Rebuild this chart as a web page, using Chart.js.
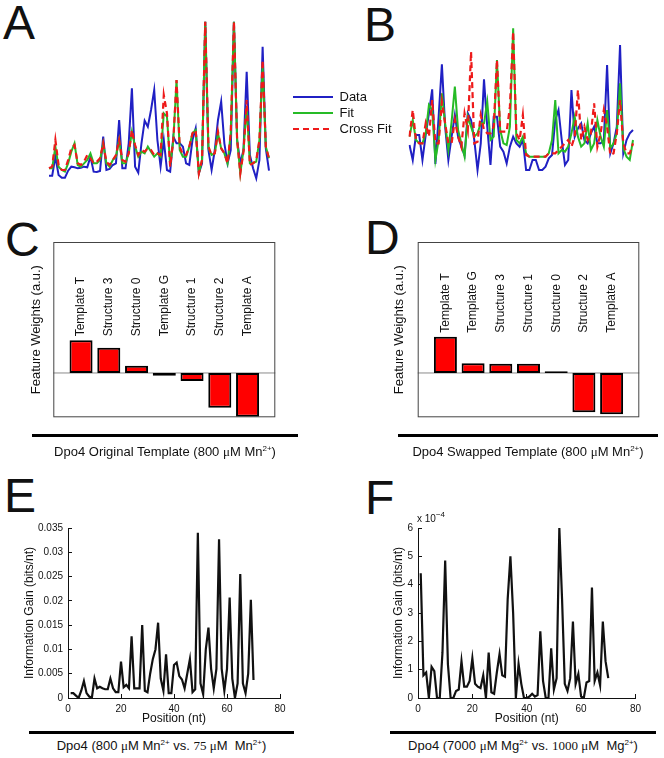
<!DOCTYPE html>
<html>
<head>
<meta charset="utf-8">
<script src="https://cdn.jsdelivr.net/npm/chart.js"></script>
<style>
  body { margin: 0; background: #fff; width: 664px; height: 758px; position: relative; overflow: hidden;
         font-family: "Liberation Sans", Arial, sans-serif; color: #111; }
  canvas { position: absolute; }
  .letter { position: absolute; font-size: 48px; line-height: 48px; color: #111; }
  .cap { position: absolute; font-size: 13px; line-height: 16px; text-align: center; white-space: nowrap; }
  .rule { position: absolute; height: 3px; background: #000; }
  .mu { font-family: "Liberation Serif", "Times New Roman", serif; }
  sup { font-size: 8px; line-height: 0; vertical-align: 5px; }
  .exp { position: absolute; font-size: 10px; line-height: 12px; }
</style>
</head>
<body>
<div class="letter" style="left:3px;top:-1px">A</div>
<div class="letter" style="left:364px;top:1px">B</div>
<div class="letter" style="left:5px;top:216px">C</div>
<div class="letter" style="left:365px;top:214px">D</div>
<div class="letter" style="left:4px;top:472px">E</div>
<div class="letter" style="left:365px;top:474px">F</div>

<canvas id="chartA" width="240" height="230" style="left:40px;top:0px"></canvas>
<canvas id="chartB" width="355" height="230" style="left:290px;top:0px"></canvas>
<canvas id="chartC" width="290" height="215" style="left:0px;top:215px"></canvas>
<canvas id="chartD" width="290" height="215" style="left:360px;top:215px"></canvas>
<canvas id="chartE" width="300" height="225" style="left:0px;top:505px"></canvas>
<canvas id="chartF" width="300" height="225" style="left:350px;top:505px"></canvas>

<div class="rule" style="left:32px;top:434px;width:266px"></div>
<div class="cap" style="left:32px;top:444px;width:266px">Dpo4 Original Template (800 <span class="mu">μ</span>M Mn<sup>2+</sup>)</div>
<div class="rule" style="left:398px;top:434px;width:260px"></div>
<div class="cap" style="left:398px;top:444px;width:260px">Dpo4 Swapped Template (800 <span class="mu">μ</span>M Mn<sup>2+</sup>)</div>
<div class="rule" style="left:29px;top:731px;width:265px"></div>
<div class="cap" style="left:29px;top:738px;width:265px">Dpo4 (800 <span class="mu">μ</span>M Mn<sup>2+</sup> vs. <span class="mu">75 μ</span>M&nbsp; Mn<sup>2+</sup>)</div>
<div class="rule" style="left:390px;top:731px;width:266px"></div>
<div class="cap" style="left:390px;top:738px;width:266px">Dpo4 (7000 <span class="mu">μ</span>M Mg<sup>2+</sup> vs. <span class="mu">1000 μ</span>M&nbsp; Mg<sup>2+</sup>)</div>
<div class="exp" style="left:417px;top:513px">x 10<sup>−4</sup></div>

<script>
// nucleotide positions along the template
const positions = Array.from({ length: 70 }, (_, i) => i + 1);

// panel A traces (arbitrary units)
const aData = [13,13,70,15,7,7,28,40,38,35, 37,40,38,70,25,24,27,130,30,33,
  45,50,180,35,35,110,275,40,22,110, 178,160,210,270,120,40,120,30,25,130,
  110,110,100,50,45,120,155,20,50,475, 90,30,90,180,235,110,50,90,475,120,
  50,90,325,75,35,5,60,400,95,28];
const aFit = [35,35,100,40,30,25,50,85,110,45, 40,50,60,80,50,50,60,110,50,40,
  60,70,120,50,50,80,145,100,70,85, 80,100,85,70,80,70,200,190,45,120,
  300,90,70,70,100,140,150,20,60,475, 95,75,80,140,95,80,50,140,475,120,
  20,90,220,50,50,55,120,340,100,65];
const aCross = [35,40,120,45,30,30,60,95,105,50, 45,55,75,65,50,55,65,110,55,45,
  60,75,120,60,55,80,150,105,75,90, 85,95,90,75,80,75,255,200,40,120,
  300,100,75,75,100,140,150,20,60,475, 100,75,80,145,95,80,50,140,475,120,
  20,85,240,45,50,60,120,360,100,65];

// panel B traces (arbitrary units)
const bData = [105,60,135,135,60,135,200,272,48,190, 347,160,60,130,195,130,100,75,200,180,
  120,30,110,302,160,45,190,190,100,85, 50,100,130,110,100,120,30,30,60,60,
  30,30,40,65,75,180,210,120,45,60, 270,130,155,170,120,110,140,160,110,110,
  120,345,80,110,160,405,80,120,140,150];
const bFit = [130,180,120,110,110,140,225,210,60,120, 260,170,90,175,280,150,110,70,190,160,
  130,140,170,170,235,120,130,360,150,110, 105,160,455,120,110,130,80,70,70,70,
  70,70,70,80,120,240,80,90,85,100, 140,190,130,100,110,170,90,110,180,130,
  100,210,95,110,140,290,95,70,60,120];
const bCross = [130,210,120,110,110,170,130,240,110,110, 235,170,110,110,180,130,100,200,150,385,
  110,115,195,150,140,140,160,360,145,145, 145,220,445,140,120,195,75,70,70,70,
  70,70,70,80,80,80,90,100,110,120, 100,130,270,120,160,120,140,230,100,140,
  210,160,75,80,140,240,110,80,80,110];

// panels C and D feature weights (a.u.)
const cFeatures = ['Template T', 'Structure 3', 'Structure 0', 'Template G', 'Structure 1', 'Structure 2', 'Template A'];
const cWeights = [0.98, 0.76, 0.22, -0.08, -0.24, -1.04, -1.31];
const dFeatures = ['Template T', 'Template G', 'Structure 3', 'Structure 1', 'Structure 0', 'Structure 2', 'Template A'];
const dWeights = [1.09, 0.29, 0.28, 0.28, 0.05, -1.18, -1.24];

// panel E information gain (bits/nt)
const eGain = [0.001,0.001,0.0005,0,0.0015,0.0035,0.001,0.0003,0,0.004,
  0.002,0.0023,0.002,0.0018,0.0018,0.004,0.002,0.0012,0.0012,0.0075,
  0.0022,0.0027,0.002,0.0127,0.002,0.002,0.002,0.015,0.0015,0.0012,
  0.005,0.008,0.01,0.0155,0.004,0.0015,0.009,0.001,0.001,0.0068,
  0.0073,0.0045,0.0038,0.002,0.005,0.008,0.0012,0.0018,0.034,0.003,
  0.0008,0.01,0.0145,0.006,0.002,0.006,0.0327,0.006,0.0015,0.006,
  0.0207,0.004,0,0.003,0.0255,0.003,0.001,0.005,0.0202,0.0037];
// panel F information gain (x 10^-4 bits/nt)
const fGain = [4.4,0.8,0.9,0,1.1,0.95,0,0,1.6,4.85,
  1.2,0,0,0.25,0.3,1.3,0.4,0.4,0.6,1.4,
  0.5,0.4,0.35,0.8,0,1.6,0.2,0.15,0.9,1.55,
  0.8,0.75,3.5,5.0,3.0,0,1.2,0.5,0,0,
  0.05,0.15,0.05,0.1,2.35,0.6,0,0,1.75,0.3,
  0.7,6.0,3.5,0.5,0.25,0.7,2.7,0.5,0.85,0.05,
  0,0.55,0.6,3.9,0.6,0.9,0.45,2.7,1.3,0.7];

const posTicks = [0, 20, 40, 60, 80];
const eYTicks = [0, 0.005, 0.01, 0.015, 0.02, 0.025, 0.03, 0.035];
const eYLabels = ['0', '0.005', '0.01', '0.015', '0.02', '0.025', '0.03', '0.035'];
const fYTicks = [0, 1, 2, 3, 4, 5, 6];
const fYLabels = ['0', '1', '2', '3', '4', '5', '6'];

Chart.defaults.font.family = '"Liberation Sans", Arial, sans-serif';
Chart.defaults.color = '#111';
Chart.defaults.animation = false;
Chart.defaults.responsive = false;
Chart.defaults.plugins.tooltip.enabled = false;

const BLUE = '#2020c4', GREEN = '#26bb26', RED = '#ee1a1a';

// small line swatch used as the legend symbol (keeps the dash visible)
function swatch(color, dash) {
  const c = document.createElement('canvas');
  c.width = 40; c.height = 4;
  const g = c.getContext('2d');
  g.strokeStyle = color; g.lineWidth = 2.2;
  g.setLineDash(dash);
  g.beginPath(); g.moveTo(0, 2); g.lineTo(40, 2); g.stroke();
  return c;
}

function traceSets(data, fit, cross) {
  return [
    { label: 'Data', data: data, borderColor: BLUE, backgroundColor: BLUE, borderWidth: 2, order: 2, pointStyle: swatch(BLUE, []) },
    { label: 'Fit', data: fit, borderColor: GREEN, backgroundColor: GREEN, borderWidth: 2, order: 1, pointStyle: swatch(GREEN, []) },
    { label: 'Cross Fit', data: cross, borderColor: RED, backgroundColor: RED, borderWidth: 2.2, borderDash: [6, 4], order: 0, pointStyle: swatch(RED, [6, 4]) }
  ];
}

const traceElements = { point: { radius: 0 }, line: { tension: 0 } };

new Chart(document.getElementById('chartA'), {
  type: 'line',
  data: { labels: positions, datasets: traceSets(aData, aFit, aCross) },
  options: {
    elements: traceElements,
    layout: { padding: { left: 9, right: 11, top: 20, bottom: 24 } },
    plugins: { legend: { display: false } },
    scales: {
      x: { display: false },
      y: { display: false, min: -78, max: 480 }
    }
  }
});

new Chart(document.getElementById('chartB'), {
  type: 'line',
  data: { labels: positions, datasets: traceSets(bData, bFit, bCross) },
  options: {
    elements: traceElements,
    layout: { padding: { left: 0, right: 12, top: 20, bottom: 24 } },
    plugins: {
      legend: {
        position: 'left',
        align: 'center',
        maxWidth: 200,
        labels: {
          usePointStyle: true, pointStyleWidth: 40,
          padding: 3, color: '#111',
          font: { size: 13, lineHeight: 1 },
          sort: (a, b) => a.datasetIndex - b.datasetIndex
        }
      }
    },
    scales: {
      x: { display: false },
      y: {
        min: -78, max: 480,
        ticks: { display: false }, grid: { display: false }, border: { display: false },
        afterFit: s => { s.width = 8; }
      }
    }
  }
});

const barDecor = {
  id: 'barDecor',
  beforeDatasetsDraw(chart) {
    const { ctx, chartArea: a, scales: { y } } = chart;
    const y0 = y.getPixelForValue(0);
    ctx.save();
    ctx.strokeStyle = '#8a8a8a';
    ctx.lineWidth = 1;
    ctx.beginPath();
    ctx.moveTo(a.left, y0);
    ctx.lineTo(a.right, y0);
    ctx.stroke();
    ctx.restore();
  },
  afterDatasetsDraw(chart) {
    const { ctx, chartArea: a, scales: { x, y } } = chart;
    ctx.save();
    ctx.strokeStyle = '#444';
    ctx.lineWidth = 1;
    ctx.strokeRect(a.left + 0.5, a.top + 0.5, a.right - a.left - 1, a.bottom - a.top - 1);
    const vals = chart.data.datasets[0].data.filter(v => v !== null);
    const base = y.getPixelForValue(Math.max(...vals)) - 4;
    ctx.fillStyle = '#111';
    ctx.font = '12px "Liberation Sans", Arial, sans-serif';
    ctx.textAlign = 'left';
    ctx.textBaseline = 'middle';
    chart.data.labels.forEach((lab, i) => {
      if (!lab) return;
      ctx.save();
      ctx.translate(x.getPixelForValue(i), base);
      ctx.rotate(-Math.PI / 2);
      ctx.fillText(lab, 0, 0);
      ctx.restore();
    });
    ctx.restore();
  }
};

function weightChart(id, features, weights, titlePad, rightPad, axisWidth) {
  return new Chart(document.getElementById(id), {
    type: 'bar',
    data: {
      labels: ['', ...features, ''],
      datasets: [{
        data: [null, ...weights, null],
        backgroundColor: '#ff0000', borderColor: '#000', borderWidth: 2, borderSkipped: false,
        barPercentage: 0.83, categoryPercentage: 1
      }]
    },
    options: {
      layout: { padding: { left: 0, right: rightPad, top: 27, bottom: 12.7 } },
      plugins: { legend: { display: false } },
      scales: {
        x: { display: false, offset: false },
        y: {
          min: -1.33, max: 3.93,
          ticks: { display: false }, grid: { display: false }, border: { display: false },
          title: { display: true, text: 'Feature Weights (a.u.)', font: { size: 13 }, color: '#111', padding: { top: titlePad, bottom: 0 } },
          afterFit: s => { s.width = axisWidth; }
        }
      }
    },
    plugins: [barDecor]
  });
}

weightChart('chartC', cFeatures, cWeights, 29, 14.7, 53.3);
weightChart('chartD', dFeatures, dWeights, 32, 10.7, 57.7);

function gainChart(id, values, yMax, yTicks, yLabels, titlePad, rightPad) {
  return new Chart(document.getElementById(id), {
    type: 'line',
    data: {
      datasets: [{
        data: positions.map((p, i) => ({ x: p, y: values[i] })),
        borderColor: '#111', borderWidth: 2.2, pointRadius: 0, tension: 0
      }]
    },
    options: {
      layout: { padding: { left: 0, right: rightPad, top: 23, bottom: 0 } },
      plugins: { legend: { display: false } },
      scales: {
        x: {
          type: 'linear', min: 0, max: 80,
          afterBuildTicks: s => { s.ticks = posTicks.map(v => ({ value: v })); },
          ticks: { font: { size: 10 }, color: '#111', padding: 9, maxRotation: 0 },
          grid: { drawOnChartArea: false, drawTicks: true, tickLength: -4, color: '#111' },
          border: { color: '#111', width: 1 },
          title: { display: true, text: 'Position (nt)', font: { size: 12 }, color: '#111', padding: { top: 0, bottom: 4 } },
          afterFit: s => { s.height = 32; }
        },
        y: {
          min: 0, max: yMax,
          afterBuildTicks: s => { s.ticks = yTicks.map(v => ({ value: v })); },
          ticks: { font: { size: 10 }, color: '#111', padding: 9, callback: (v, i) => yLabels[i] },
          grid: { drawOnChartArea: false, drawTicks: true, tickLength: -4, color: '#111' },
          border: { color: '#111', width: 1 },
          title: { display: true, text: 'Information Gain (bits/nt)', font: { size: 12 }, color: '#111', padding: { top: titlePad, bottom: 0 } },
          afterFit: s => { s.width = 68; }
        }
      }
    }
  });
}

gainChart('chartE', eGain, 0.035, eYTicks, eYLabels, 22, 20);
gainChart('chartF', fGain, 6, fYTicks, fYLabels, 41.5, 11.3);
</script>
</body>
</html>
